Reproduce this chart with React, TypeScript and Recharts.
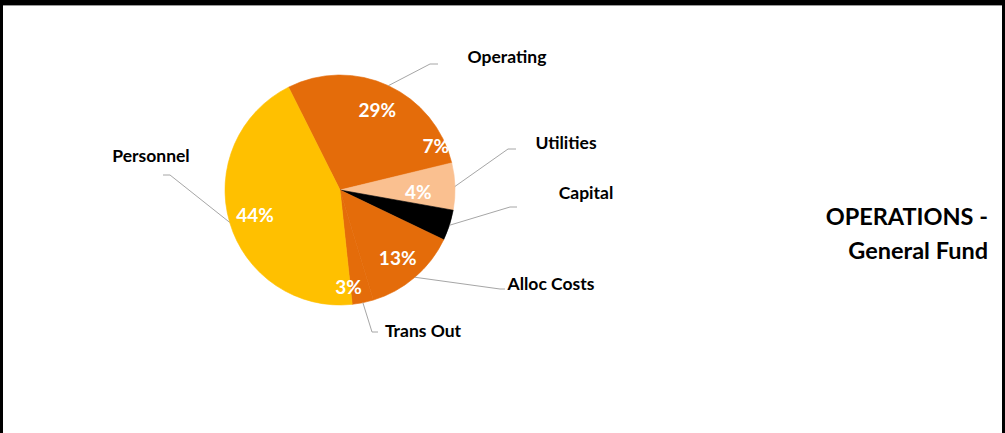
import { PieChart, Pie, Cell } from 'recharts'

// ── Data ──────────────────────────────────────────────────────────────────────

const categories = ['Operating', 'Utilities', 'Capital', 'Alloc Costs', 'Trans Out', 'Personnel']
const shares     = [28.6, 6.6, 4.3, 13.2, 3.0, 44.3]
const colors     = ['#E46C0A', '#FAC090', '#000000', '#E46C0A', '#E46C0A', '#FFC000']

const data = categories.map((name, i) => ({ name, value: shares[i] }))

// ── Layout ────────────────────────────────────────────────────────────────────

const W = 1005, H = 433
const CX = 340, CY = 190, R = 115
const START = 116.6
const FONT = 'Lato, "Open Sans", sans-serif'
const RAD = Math.PI / 180

// label nudges, Excel had these dragged around by hand
const PCT_NUDGE: Record<string, { da: number; rf: number }> = {
  Utilities:   { da: 23.4, rf: 0.92 },
  Capital:     { da: 16.7, rf: 0.68 },
  'Trans Out': { da: -6.4, rf: 0.84 },
}

// elbow / text offsets from pie centre, tail = short horizontal piece
const LEADER: Record<string, { elbow: [number, number]; tail: number; text: [number, number] }> = {
  Operating:     { elbow: [90, -126],  tail: 8,  text: [167, -134] },
  Utilities:     { elbow: [168, -41],  tail: 8,  text: [226, -48] },
  Capital:       { elbow: [170, 17],   tail: 7,  text: [246, 2] },
  'Alloc Costs': { elbow: [160, 99],   tail: 5,  text: [211, 93] },
  'Trans Out':   { elbow: [32, 142],   tail: 6,  text: [83, 140] },
  Personnel:     { elbow: [-170, -15], tail: -7, text: [-189, -35] },
}

function SliceLabel(props: any) {
  const { cx, cy, midAngle, outerRadius, percent, name } = props
  const n = PCT_NUDGE[name] ?? { da: 0, rf: 0.77 }
  const a = (midAngle + n.da) * RAD
  const px = cx + outerRadius * n.rf * Math.cos(a)
  const py = cy - outerRadius * n.rf * Math.sin(a)

  const sx = cx + outerRadius * Math.cos(midAngle * RAD)
  const sy = cy - outerRadius * Math.sin(midAngle * RAD)
  const l = LEADER[name]
  const ex = cx + l.elbow[0], ey = cy + l.elbow[1]

  return (
    <g>
      <text x={px} y={py} textAnchor="middle" dominantBaseline="central"
        fill="#fff" fontFamily={FONT} fontWeight={700} fontSize={19}>
        {Math.round(percent * 100)}%
      </text>
      <polyline points={`${sx},${sy} ${ex},${ey} ${ex + l.tail},${ey}`}
        fill="none" stroke="#a6a6a6" strokeWidth={1} />
      <text x={cx + l.text[0]} y={cy + l.text[1]} textAnchor="middle" dominantBaseline="central"
        fill="#000" fontFamily={FONT} fontWeight={700} fontSize={17.5}>
        {name}
      </text>
    </g>
  )
}

export default function App() {
  return (
    <div style={{ position: 'absolute', left: 0, top: 0, width: W, height: H, background: '#fff', overflow: 'hidden' }}>
      <PieChart width={W} height={H} margin={{ top: 0, right: 0, bottom: 0, left: 0 }}
        style={{ position: 'absolute', left: 0, top: 0 }}>
        <Pie
          data={data} dataKey="value" nameKey="name"
          cx={CX} cy={CY} outerRadius={R}
          startAngle={START} endAngle={START - 360}
          labelLine={false} label={SliceLabel}
          isAnimationActive={false}
        >
          {data.map((d, i) => <Cell key={d.name} fill={colors[i]} stroke={colors[i]} strokeWidth={0.6} />)}
        </Pie>
      </PieChart>

      <div style={{
        position: 'absolute', left: 788, top: 199, width: 200, textAlign: 'right',
        fontFamily: FONT, fontWeight: 700, fontSize: 23.5, lineHeight: '34px', color: '#000',
      }}>
        OPERATIONS -<br />General Fund
      </div>

      {/* frame: thick top edge, thin sides, open bottom */}
      <div style={{
        position: 'absolute', inset: 0, boxSizing: 'border-box', pointerEvents: 'none',
        borderTop: '5px solid #000', borderLeft: '3px solid #000', borderRight: '3px solid #000',
      }} />
      <div style={{ position: 'absolute', left: 3, right: 3, top: 5, height: 1, background: '#9a9a9a' }} />
    </div>
  )
}
